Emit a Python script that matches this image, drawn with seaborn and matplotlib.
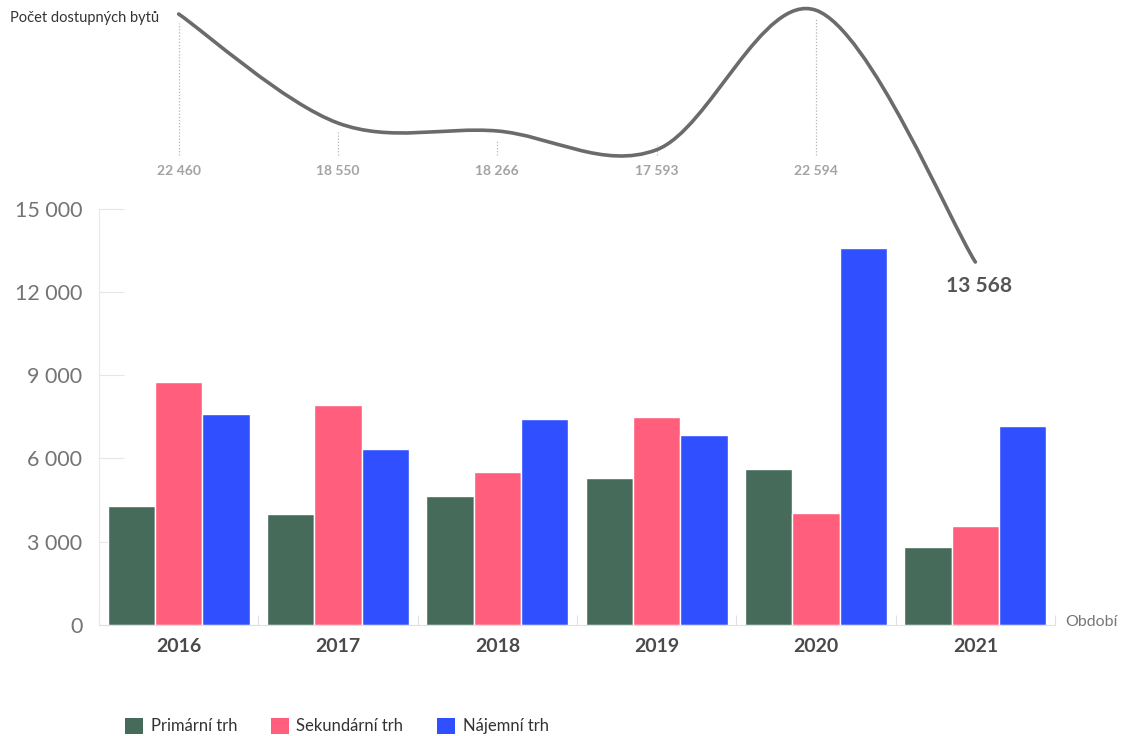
import numpy as np
import pandas as pd
import matplotlib
matplotlib.use("Agg")
import matplotlib.pyplot as plt
import matplotlib.transforms as mtransforms
from matplotlib.path import Path
from matplotlib.patches import PathPatch, Patch
import seaborn as sns

# ---------------- data ----------------
years = ["2016", "2017", "2018", "2019", "2020", "2021"]
series_names = ["Primární trh", "Sekundární trh", "Nájemní trh"]
primarni = [4290, 3990, 4635, 5285, 5630, 2820]
sekundarni = [8750, 7910, 5520, 7500, 4025, 3555]
najemni = [7590, 6330, 7430, 6855, 13580, 7170]
total_available = [22460, 18550, 18266, 17593, 22594, 13568]
y_ticks = [0, 3000, 6000, 9000, 12000, 15000]
line_title = "Počet dostupných bytů"
x_title = "Období"
colors = ["#466B5B", "#FF5F7D", "#3050FF"]


def fmt(v):
    return f"{v:,}".replace(",", " ")


# ---------------- style ----------------
sns.set_theme(style="white")
plt.rcParams["font.family"] = ["Lato", "DejaVu Sans"]

fig = plt.figure(figsize=(11.22, 7.36), dpi=100)
ax = fig.add_axes([0.0882, 0.1508, 0.8521, 0.8492])

df = pd.DataFrame({
    "year": np.repeat(years, 3),
    "series": series_names * len(years),
    "value": np.ravel(np.column_stack([primarni, sekundarni, najemni])),
})

sns.barplot(data=df, x="year", y="value", hue="series", order=years,
            hue_order=series_names, palette=colors, width=0.89,
            saturation=1, edgecolor="white", linewidth=1, legend=False,
            ax=ax)

ax.set_xlim(-0.5, 5.5)
ax.set_ylim(0, 22509)
ax.set_xlabel("")
ax.set_ylabel("")

ax.set_yticks(y_ticks)
ax.set_yticklabels([fmt(v) for v in y_ticks])
ax.tick_params(axis="y", left=True, direction="in", length=18, width=0.8,
               color="#e6e6e6", labelsize=15.5, labelcolor="#747474", pad=12)

ax.set_xticks(range(len(years)))
ax.set_xticklabels(years)
ax.tick_params(axis="x", which="major", bottom=False, length=0, pad=9,
               labelsize=14, labelcolor="#4a4a4a")
for lbl in ax.get_xticklabels():
    lbl.set_fontweight("bold")
ax.set_xticks(np.arange(-0.5, len(years), 1.0), minor=True)
ax.tick_params(axis="x", which="minor", bottom=True, direction="in",
               length=7, width=0.8, color="#e0e0e0")

for s in ["top", "right"]:
    ax.spines[s].set_visible(False)
ax.spines["left"].set_color("#e8e8e8")
ax.spines["left"].set_linewidth(0.8)
ax.spines["left"].set_bounds(0, 15000)
ax.spines["bottom"].set_color("#e0e0e0")
ax.spines["bottom"].set_linewidth(0.8)

# ---------------- line (total available) ----------------
ax2 = ax.twinx()
ax2.set_ylim(553, 22962)
ax2.axis("off")

xs = np.arange(len(total_available), dtype=float)
ys = np.array(total_available, dtype=float)
P = np.column_stack([xs, ys])
n = len(P)
verts = [tuple(P[0])]
codes = [Path.MOVETO]
for i in range(n - 1):
    p0 = P[max(i - 1, 0)]
    p1 = P[i]
    p2 = P[i + 1]
    p3 = P[min(i + 2, n - 1)]
    c1 = p1 + (p2 - p0) / 6.0
    c2 = p2 - (p3 - p1) / 6.0
    verts += [tuple(c1), tuple(c2), tuple(p2)]
    codes += [Path.CURVE4] * 3
patch = PathPatch(Path(verts, codes), facecolor="none", edgecolor="#6b6b6b",
                  lw=2.6, capstyle="round", joinstyle="round",
                  clip_on=False, zorder=5)
ax2.add_patch(patch)

blend = mtransforms.blended_transform_factory(ax2.transData, ax2.transAxes)
inv = ax2.transData.inverted()
bottom_disp = ax2.transAxes.transform((0, 0.752))[1]
for i, v in enumerate(total_available[:-1]):
    ax2.text(i, 0.7264, fmt(v), transform=blend, ha="center", va="center",
             fontsize=10, color="#a3a3a3", fontweight="bold")
    pt_disp = ax2.transData.transform((i, v))[1]
    top_disp = pt_disp - 9
    if top_disp < bottom_disp + 10:
        top_disp = bottom_disp + 10
    y_top = inv.transform((0, top_disp))[1]
    y_bot = inv.transform((0, bottom_disp))[1]
    ax2.plot([i, i], [y_bot, y_top], linestyle=(0, (1, 1.5)), lw=0.9,
             color="#b5b5b5", clip_on=False, zorder=4)

ax2.annotate(fmt(total_available[-1]), xy=(len(total_available) - 1,
             total_available[-1]), xytext=(3, -17.5),
             textcoords="offset points", ha="center", va="center",
             fontsize=15, fontweight="bold", color="#555555",
             annotation_clip=False)

fig.text(10 / 1122, 1 - 18 / 736, line_title, ha="left", va="center",
         fontsize=10.5, color="#333333")
fig.text(1065 / 1122, (736 - 622) / 736, x_title, ha="left", va="center",
         fontsize=11.5, color="#777777")

handles = [Patch(facecolor=c, edgecolor="none") for c in colors]
fig.legend(handles, series_names, loc="center left",
           bbox_to_anchor=(125 / 1122, 10 / 736), ncol=3, frameon=False,
           fontsize=12, handlelength=1.1, handleheight=1.1,
           handletextpad=0.45, columnspacing=2.0, borderpad=0,
           borderaxespad=0, labelcolor="#333333")

fig.savefig("out.png", dpi=100)
